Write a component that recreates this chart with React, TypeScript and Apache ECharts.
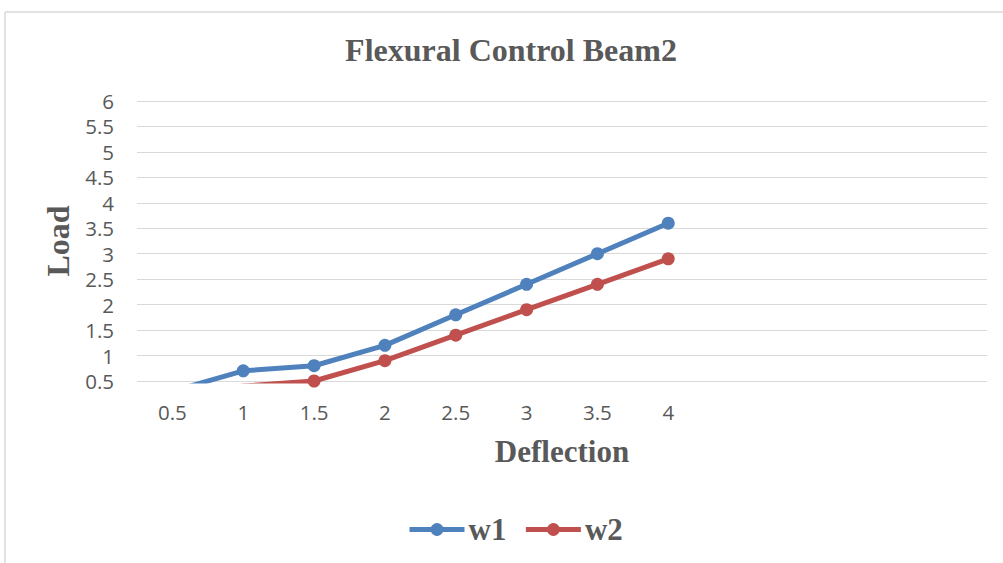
import React, { useEffect, useRef } from "react";
import * as echarts from "echarts";

const categories = ["0.5", "1", "1.5", "2", "2.5", "3", "3.5", "4"];
const emptySlots = 4;
const w1 = [0.3, 0.7, 0.8, 1.2, 1.8, 2.4, 3.0, 3.6];
const w2 = [0.2, 0.4, 0.5, 0.9, 1.4, 1.9, 2.4, 2.9];
const yMin = 0.5;
const yMax = 6;
const yStep = 0.5;

export default function App() {
  const ref = useRef<HTMLDivElement>(null);
  useEffect(() => {
    if (!ref.current) return;
    const chart = echarts.init(ref.current, undefined, { renderer: "svg" });
    const xData = [
      ...categories,
      ...Array.from({ length: emptySlots }, (_, i) => " ".repeat(i + 1)),
    ];
    const textColor = "#595959";
    const serif = "'Liberation Serif', 'Times New Roman', serif";
    chart.setOption({
      animation: false,
      backgroundColor: "#ffffff",
      title: {
        text: "Flexural Control Beam2",
        left: 506,
        top: 29,
        textAlign: "center",
        textStyle: { fontFamily: serif, fontWeight: "bold", fontSize: 32, color: textColor },
      },
      legend: {
        left: 407,
        top: 514,
        padding: 0,
        itemWidth: 55,
        itemHeight: 16,
        itemGap: 17,
        lineStyle: { width: 5 },
        textStyle: { fontFamily: serif, fontWeight: "bold", fontSize: 31, color: textColor, padding: [0, 0, 0, -1] },
        data: ["w1", "w2"],
      },
      grid: { left: 137, right: 16, top: 101, bottom: 182, containLabel: false },
      xAxis: {
        type: "category",
        data: xData,
        boundaryGap: true,
        axisLine: { show: false },
        axisTick: { show: false },
        axisLabel: { color: textColor, fontFamily: "'Open Sans', sans-serif", fontSize: 20.5, margin: 20, interval: 0 },
        name: "Deflection",
        nameLocation: "middle",
        nameGap: 55,
        nameTextStyle: { fontFamily: serif, fontWeight: "bold", fontSize: 31, color: textColor },
      },
      yAxis: {
        type: "value",
        min: yMin,
        max: yMax,
        interval: yStep,
        axisLine: { show: false },
        axisTick: { show: false },
        axisLabel: { color: textColor, fontFamily: "'Open Sans', sans-serif", fontSize: 20.5, margin: 23 },
        splitLine: { lineStyle: { color: "#d9d9d9", width: 1 } },
        name: "Load",
        nameLocation: "middle",
        nameRotate: 90,
        nameGap: 61,
        nameTextStyle: { fontFamily: serif, fontWeight: "bold", fontSize: 32, color: textColor },
      },
      graphic: [
        { type: "line", shape: { x1: 5, y1: 12, x2: 1003, y2: 12 }, style: { stroke: "#d9d9d9", lineWidth: 1.5 } },
        { type: "line", shape: { x1: 5, y1: 12, x2: 5, y2: 563 }, style: { stroke: "#d9d9d9", lineWidth: 1.5 } },
      ],
      series: [
        {
          name: "w1",
          type: "line",
          data: w1,
          symbol: "circle",
          symbolSize: 13,
          lineStyle: { color: "#4f81bd", width: 5 },
          itemStyle: { color: "#4f81bd" },
        },
        {
          name: "w2",
          type: "line",
          data: w2,
          symbol: "circle",
          symbolSize: 13,
          lineStyle: { color: "#c0504d", width: 5 },
          itemStyle: { color: "#c0504d" },
        },
      ],
    });
    return () => chart.dispose();
  }, []);
  return <div ref={ref} style={{ position: "fixed", left: 0, top: 0, width: 1003, height: 563 }} />;
}
